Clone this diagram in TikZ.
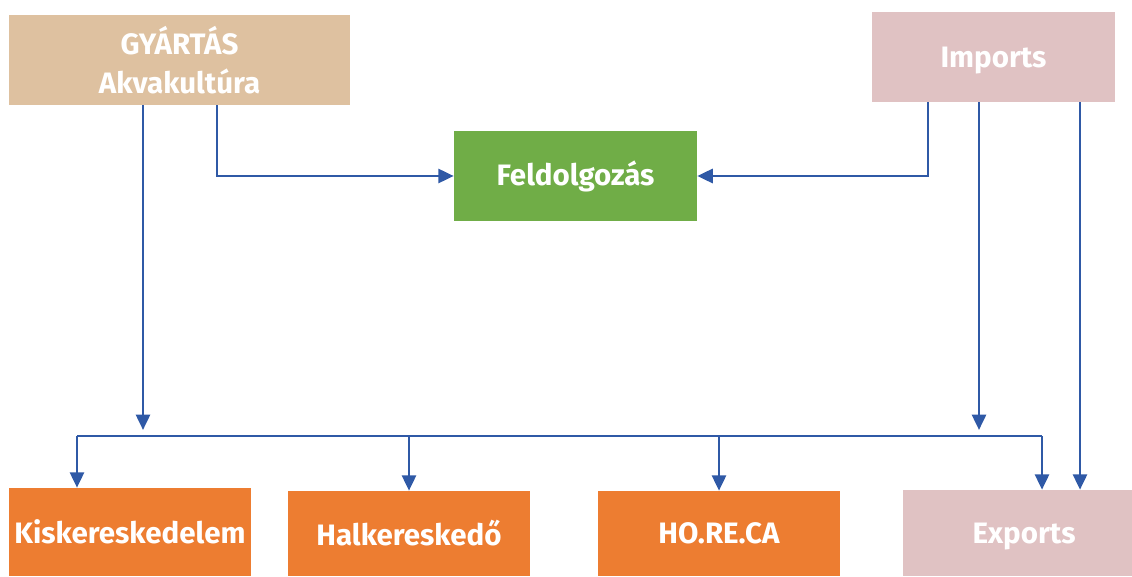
\documentclass[tikz,border=0pt]{standalone}
\usepackage{fontspec}
\setmainfont{Fira Sans}
\usetikzlibrary{arrows.meta}
\definecolor{tan}{HTML}{DEC1A0}
\definecolor{rose}{HTML}{E0C2C3}
\definecolor{leaf}{HTML}{70AD47}
\definecolor{carrot}{HTML}{ED7D31}
\definecolor{link}{HTML}{2F59A6}
\begin{document}
\begin{tikzpicture}[font=\fontsize{21}{27.7}\selectfont\bfseries]
            \tikzstyle{box} = [rectangle, text=white, align=center, inner sep=0pt, minimum width=6.05cm, minimum height=2.15cm]
            \tikzstyle{arr} = [draw=link, line width=2pt, -{Triangle[width=10pt,length=11pt]}]
            \useasboundingbox (0,0) rectangle (28.3,14.4);

            % 定义实体
            \node[box, fill=tan, minimum width=8.525cm, minimum height=2.25cm] (gyartas) at (4.4875,12.9) {GYÁRTÁS\\Akvakultúra};
            \node[box, fill=rose, minimum width=6.075cm, minimum height=2.25cm, text depth=0pt] (imports) at (24.8375,12.975) {Imports};
            \node[box, fill=leaf, minimum width=6.075cm, minimum height=2.25cm] (feld) at (14.3875,10) {Feldolgozás};
            \node[box, fill=carrot, minimum height=2.2cm] (kisker) at (3.25,1.1) {Kiskereskedelem};
            \node[box, fill=carrot, minimum height=2.125cm] (halker) at (10.225,1.0625) {Halkereskedő};
            \node[box, fill=carrot, minimum height=2.125cm] (horeca) at (17.975,1.0625) {HO.RE.CA};
            \node[box, fill=rose, text depth=0pt] (exports) at (25.6,1.075) {Exports};

            % 汇流线
            \coordinate (busw) at (1.925,3.5);
            \coordinate (buse) at (26.05,3.5);
            \draw[link, line width=1.3pt] (busw) -- (buse);

            % 绘制箭头
            \draw[arr] (gyartas.south -| 5.425,0) |- (feld.west);
            \draw[arr] (imports.south -| 23.2,0) |- (feld.east);
            \draw[arr] (gyartas.south -| 3.575,0) -- (3.575,3.65);
            \draw[arr] (imports.south -| 24.475,0) -- (24.475,3.65);
            \draw[arr] (imports.south -| 27,0) -- (exports.north -| 27,0);

            % 分支
            \draw[arr] (busw) -- (busw |- kisker.north);
            \draw[arr] (halker.north |- busw) -- (halker.north);
            \draw[arr] (horeca.north |- busw) -- (horeca.north);
            \draw[arr] (buse) -- (buse |- exports.north);
        \end{tikzpicture}
\end{document}
